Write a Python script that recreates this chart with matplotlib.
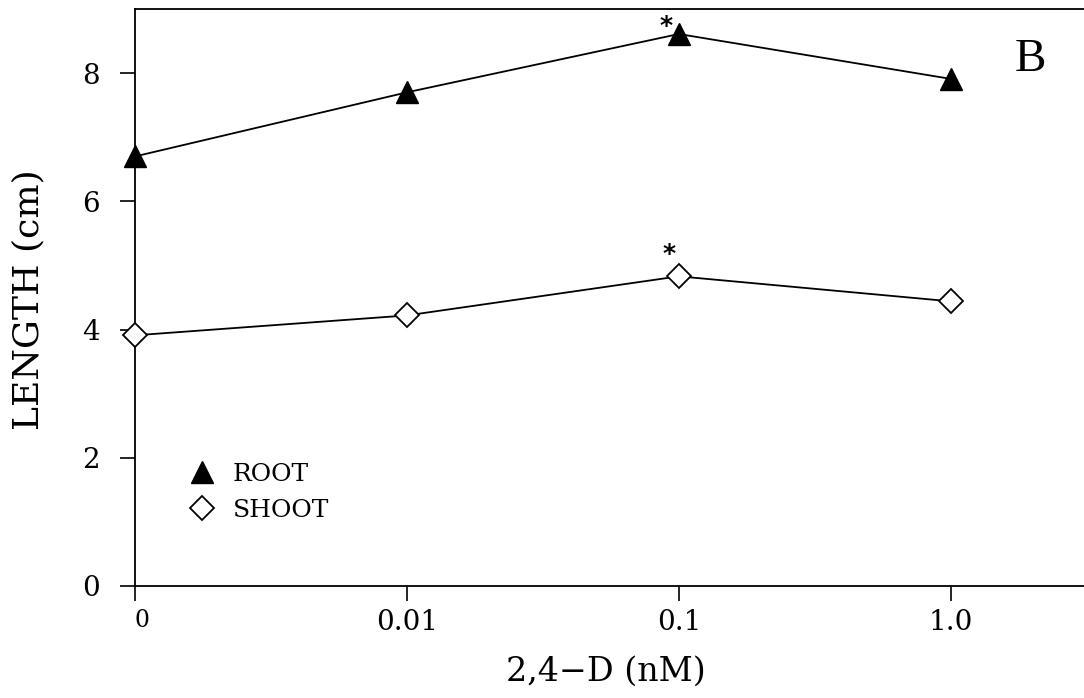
import matplotlib
matplotlib.use("Agg")
import matplotlib.pyplot as plt

# 数据
conc_labels = ["0", "0.01", "0.1", "1.0"]
x_pos = [0, 1, 2, 3]
root_len = [6.70, 7.70, 8.61, 7.91]
shoot_len = [3.91, 4.22, 4.83, 4.44]
y_ticks = [0, 2, 4, 6, 8]
sig_idx = 2  # 显著差异点 (*)

plt.rcParams['font.family'] = ['DejaVu Serif']

fig = plt.figure(figsize=(10.84, 6.98), dpi=100)
ax = fig.add_axes([0.1245, 0.1605, 0.8755, 0.8266])

ax.plot(x_pos, root_len, color="black", linewidth=1.3, marker="^", markersize=16,
        markerfacecolor="black", markeredgecolor="black", label="ROOT", clip_on=False, zorder=3)
ax.plot(x_pos, shoot_len, color="black", linewidth=1.3, marker="D", markersize=12,
        markerfacecolor="white", markeredgecolor="black", markeredgewidth=1.3,
        label="SHOOT", clip_on=False, zorder=3)

# 星号标记
ax.annotate("*", (x_pos[sig_idx], root_len[sig_idx]), xytext=(-9, 1), textcoords="offset points",
            ha="center", va="baseline", fontsize=18, fontweight="bold", family="DejaVu Sans")
ax.annotate("*", (x_pos[sig_idx], shoot_len[sig_idx]), xytext=(-7, 11), textcoords="offset points",
            ha="center", va="baseline", fontsize=18, fontweight="bold", family="DejaVu Sans")

ax.set_xlim(0, 3.49)
ax.set_ylim(0, 9)
ax.set_xticks(x_pos)
ax.set_xticklabels(conc_labels)
ax.set_yticks(y_ticks)
ax.tick_params(direction="out", length=10.5, width=1.2, labelsize=20)
ax.tick_params(axis="x", pad=6)
ax.tick_params(axis="y", pad=15)
xl0 = ax.get_xticklabels()[0]
xl0.set_fontsize(17)
xl0.set_horizontalalignment("left")
ax.spines["right"].set_visible(False)
for s in ["left", "bottom", "top"]:
    ax.spines[s].set_linewidth(1.3)

ax.set_xlabel("2,4\u2212D (nM)", fontsize=24, va="center")
ax.xaxis.set_label_coords(0.496, -0.149)
ax.set_ylabel("LENGTH (cm)", fontsize=26, va="center")
ax.yaxis.set_label_coords(-0.1117, 0.496)

ax.text(0.943, 0.912, "B", transform=ax.transAxes, fontsize=34,
        family="Liberation Serif", ha="center", va="center")

leg = ax.legend(loc="upper left", bbox_to_anchor=(0.0574, 0.214), frameon=False,
                fontsize=18, handlelength=1.0, handletextpad=0.74, labelspacing=0.52,
                borderpad=0, borderaxespad=0, numpoints=1)
for h in leg.legend_handles:
    h.set_linestyle("none")

fig.savefig("out.png", dpi=100)
